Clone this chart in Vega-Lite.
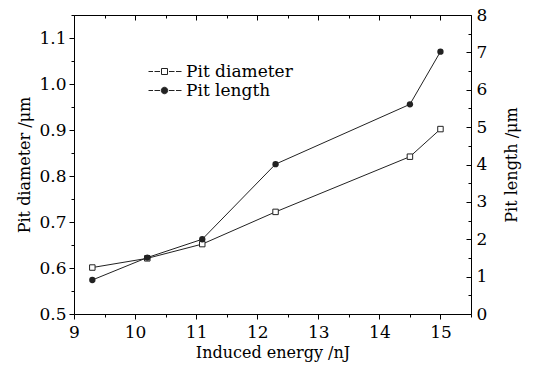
{
  "$schema": "https://vega.github.io/schema/vega-lite/v6.json",
  "width": 397,
  "height": 299,
  "autosize": {"type": "none"},
  "padding": {"left": 74, "top": 15, "right": 65, "bottom": 55},
  "background": "white",
  "config": {
    "view": {"stroke": null},
    "font": "DejaVu Serif",
    "axis": {
      "labelFont": "DejaVu Serif",
      "titleFont": "DejaVu Serif",
      "labelFontSize": 17,
      "titleFontSize": 16,
      "labelColor": "black",
      "titleColor": "black",
      "domainColor": "black",
      "tickColor": "black",
      "grid": false,
      "titleFontWeight": "normal",
      "labelFlush": false,
      "labelOverlap": false
    }
  },
  "data": {
    "values": [
      {"energy": 9.3, "diameter": 0.601, "length": 0.91},
      {"energy": 10.2, "diameter": 0.621, "length": 1.51},
      {"energy": 11.1, "diameter": 0.652, "length": 2.0},
      {"energy": 12.3, "diameter": 0.722, "length": 4.01},
      {"energy": 14.5, "diameter": 0.842, "length": 5.61},
      {"energy": 15.0, "diameter": 0.902, "length": 7.02}
    ]
  },
  "layer": [
    {
      "mark": {"type": "line", "strokeWidth": 1, "point": {"shape": "square", "filled": false, "fill": "white", "size": 30, "strokeWidth": 1}},
      "encoding": {
        "x": {"field": "energy", "type": "quantitative", "scale": {"domain": [9, 15.5], "nice": false, "zero": false},
          "axis": {"orient": "bottom", "values": [9, 10, 11, 12, 13, 14, 15], "tickSize": 5, "labelPadding": 5, "title": "Induced energy /nJ", "titlePadding": 4}},
        "y": {"field": "diameter", "type": "quantitative", "scale": {"domain": [0.5, 1.15], "nice": false, "zero": false},
          "axis": {"orient": "left", "values": [0.5, 0.6, 0.7, 0.8, 0.9, 1.0, 1.1], "format": ".1f", "tickSize": 5, "labelPadding": 3, "title": "Pit diameter /μm", "titlePadding": 6}},
        "color": {"datum": "Pit diameter", "type": "nominal", "scale": {"domain": ["Pit diameter", "Pit length"], "range": ["#222222", "#222222"]},
          "legend": {
            "orient": "none", "legendX": 82, "legendY": 48, "title": null,
            "labelFont": "DejaVu Serif", "labelFontSize": 17, "labelColor": "black",
            "symbolSize": 100, "labelOffset": 13, "rowPadding": 1, "padding": 0,
            "encode": {
              "symbols": {
                "update": {
                  "shape": {"signal": "datum.value === 'Pit diameter' ? 'M-3.2,0H-2.3M-2.0,0H-0.9M-0.6,-0.6H0.6M0.6,-0.6V0.6M0.6,0.6H-0.6M-0.6,0.6V-0.6M0.9,0H2.0M2.3,0H3.4' : 'M-3.2,0H-2.3M-2.0,0H-0.9M0.65,0A0.65,0.65 0 1,1 -0.65,0A0.65,0.65 0 1,1 0.65,0ZM0.9,0H2.0M2.3,0H3.4'"},
                  "fill": {"value": "black"},
                  "fillOpacity": {"value": 1},
                  "stroke": {"value": "black"},
                  "strokeWidth": {"value": 1},
                  "opacity": {"value": 1}
                }
              }
            }
          }}
      }
    },
    {
      "mark": {"type": "line", "strokeWidth": 1, "point": {"shape": "circle", "filled": true, "size": 40}},
      "encoding": {
        "x": {"field": "energy", "type": "quantitative",
          "axis": {"orient": "top", "values": [9, 10, 11, 12, 13, 14, 15], "tickSize": -5, "labels": false, "title": null}},
        "y": {"field": "length", "type": "quantitative", "scale": {"domain": [0, 8], "nice": false, "zero": false},
          "axis": {"orient": "right", "values": [0, 1, 2, 3, 4, 5, 6, 7, 8], "tickSize": -5, "labelPadding": 10, "title": "Pit length /μm", "titleAngle": 270, "titlePadding": 33}},
        "color": {"datum": "Pit length", "type": "nominal"}
      }
    },
    {
      "mark": {"type": "point", "opacity": 0},
      "encoding": {
        "x": {"field": "energy", "type": "quantitative",
          "axis": {"orient": "bottom", "values": [9.5, 10.5, 11.5, 12.5, 13.5, 14.5, 15.5], "tickSize": 3, "labels": false, "domain": false, "title": null}},
        "y": {"field": "diameter", "type": "quantitative", "scale": {"domain": [0.5, 1.15], "nice": false, "zero": false},
          "axis": {"orient": "left", "values": [0.55, 0.65, 0.75, 0.85, 0.95, 1.05, 1.15], "tickSize": 3, "labels": false, "domain": false, "title": null}}
      }
    },
    {
      "mark": {"type": "point", "opacity": 0},
      "encoding": {
        "x": {"field": "energy", "type": "quantitative",
          "axis": {"orient": "top", "values": [9.5, 10.5, 11.5, 12.5, 13.5, 14.5, 15.5], "tickSize": -3, "labels": false, "domain": false, "title": null}},
        "y": {"field": "length", "type": "quantitative", "scale": {"domain": [0, 8], "nice": false, "zero": false},
          "axis": {"orient": "right", "values": [0.5, 1.5, 2.5, 3.5, 4.5, 5.5, 6.5, 7.5], "tickSize": -3, "labels": false, "domain": false, "title": null}}
      }
    }
  ],
  "resolve": {"scale": {"y": "independent"}, "axis": {"x": "independent", "y": "independent"}}
}
